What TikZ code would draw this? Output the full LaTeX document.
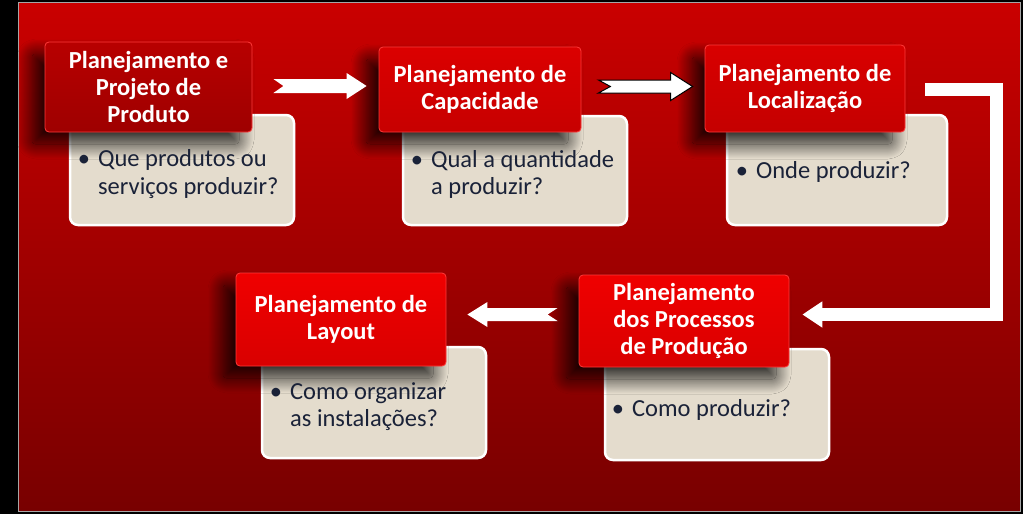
\documentclass[tikz,border=0pt]{standalone}
\usepackage{fontspec}
\setmainfont{Carlito}
\usetikzlibrary{calc,shadows.blur,arrows.meta}
\definecolor{bgtop}{HTML}{CA0000}
\definecolor{bgbot}{HTML}{780000}
\definecolor{beige}{HTML}{E4DCCD}
\definecolor{navy}{HTML}{1A2238}
\definecolor{tedge}{HTML}{FF3A3A}
\newcommand\blockarrow[7]{%
  \path[#1] let \p1=(#2), \p2=(#3), \n1={ifthenelse(\x2>\x1,1,-1)} in
   (\x1,\y1+#4) -- (\x2-\n1*#6,\y1+#4) -- (\x2-\n1*#6,\y1+#5) -- (\x2,\y1)
   -- (\x2-\n1*#6,\y1-#5) -- (\x2-\n1*#6,\y1-#4) -- (\x1,\y1-#4)
   -- (\x1+\n1*#7,\y1) -- cycle;}
\begin{document}
\begin{tikzpicture}[x=1pt,y=-1pt,
  titlebox/.style={rounded corners=4pt, draw=tedge, line width=0.8pt, text=white,
    font=\bfseries\fontsize{24.5}{26.8}\selectfont, align=center, inner sep=0pt,
    blur shadow={shadow xshift=-13pt, shadow yshift=-12pt, shadow blur radius=15pt,
      shadow blur steps=40, shadow opacity=85}},
  beigebox/.style={fill=beige, draw=white, line width=2.5pt, rounded corners=8pt, inner sep=0pt},
  btext/.style={text=navy, font=\fontsize{24.5}{27.5}\selectfont, inner sep=0pt, align=left, anchor=west},
  warrow/.style={fill=white},
  warrowb/.style={fill=white, draw=black, line width=1pt, line join=miter}
]
\useasboundingbox (0,0) rectangle (1023,514);
\fill[black] (0,0) rectangle (1023,514);
\shade[top color=bgtop, bottom color=bgbot] (18,2) rectangle (1020,511);
\draw[gray!70, line width=0.8pt] (18,2) rectangle (1020,511);

% step 1
\node[beigebox, minimum width=224pt, minimum height=110pt] (b1) at (182,170) {};
\node[titlebox, minimum width=207pt, minimum height=90pt, top color=red!72!black, bottom color=red!62!black] (t1) at (148.5,87) {Planejamento e\\Projeto de\\Produto};
\node[btext] (x1) at ($(b1.west)+(9,5)$) {\begin{tabular}{@{}l@{\hspace{8pt}}l@{}}•&Que produtos ou\\&serviços produzir?\end{tabular}};

% step 2
\node[beigebox, minimum width=224pt, minimum height=109pt] (b2) at (515,170.5) {};
\node[titlebox, minimum width=202pt, minimum height=85pt, top color=red!86!black, bottom color=red!78!black] (t2) at (480,89.5) {Planejamento de\\Capacidade};
\node[btext] (x2) at ($(b2.west)+(9,5)$) {\begin{tabular}{@{}l@{\hspace{8pt}}l@{}}•&Qual a quantidade\\&a produzir?\end{tabular}};

% step 3
\node[beigebox, minimum width=220pt, minimum height=110pt] (b3) at (837,170) {};
\node[titlebox, minimum width=200pt, minimum height=87pt, top color=red!85!black, bottom color=red!77!black] (t3) at (805,88.5) {Planejamento de\\Localização};
\node[btext] (x3) at ($(b3.west)+(10,3)$) {\begin{tabular}{@{}l@{\hspace{8pt}}l@{}}•&Onde produzir?\end{tabular}};

% step 4 (processos)
\node[beigebox, minimum width=224pt, minimum height=111pt] (b5) at (717,404.5) {};
\node[titlebox, minimum width=210pt, minimum height=92pt, top color=red!94!black, bottom color=red!85!black] (t5) at (684,321) {Planejamento\\dos Processos\\de Produção};
\node[btext] (x5) at ($(b5.west)+(8,6.5)$) {\begin{tabular}{@{}l@{\hspace{8pt}}l@{}}•&Como produzir?\end{tabular}};

% step 5 (layout)
\node[beigebox, minimum width=224pt, minimum height=111pt] (b4) at (374,402.5) {};
\node[titlebox, minimum width=210pt, minimum height=93pt, top color=red!94!black, bottom color=red!85!black] (t4) at (341,319.5) {Planejamento de\\Layout};
\node[btext] (x4) at ($(b4.west)+(9,5)$) {\begin{tabular}{@{}l@{\hspace{8pt}}l@{}}•&Como organizar\\&as instalações?\end{tabular}};

% arrows
\coordinate (a1s) at ($(t1.east)+(21,-1)$);
\coordinate (a1e) at ($(t2.west)+(-12,0)$);
\blockarrow{warrow}{a1s}{a1e}{7pt}{13pt}{20pt}{10pt}
\coordinate (a2s) at ($(t2.east)+(17,-3)$);
\coordinate (a2e) at ($(t3.west)+(-12,0)$);
\blockarrow{warrowb}{a2s}{a2e}{6.5pt}{14pt}{22pt}{12pt}
\coordinate (a4s) at ($(t5.west)+(-21,-6.5)$);
\coordinate (a4e) at ($(t4.east)+(21,0)$);
\blockarrow{warrow}{a4s}{a4e}{6.5pt}{12.5pt}{20pt}{10pt}
\coordinate (e1) at ($(t3.east)+(20,1)$);
\coordinate (e2) at ($(t5.east)+(13,-6.5)$);
\draw[white, line width=13pt, -{Triangle[length=20pt,width=25pt]}] (e1) -- ++(71,0) |- (e2);
\end{tikzpicture}
\end{document}
